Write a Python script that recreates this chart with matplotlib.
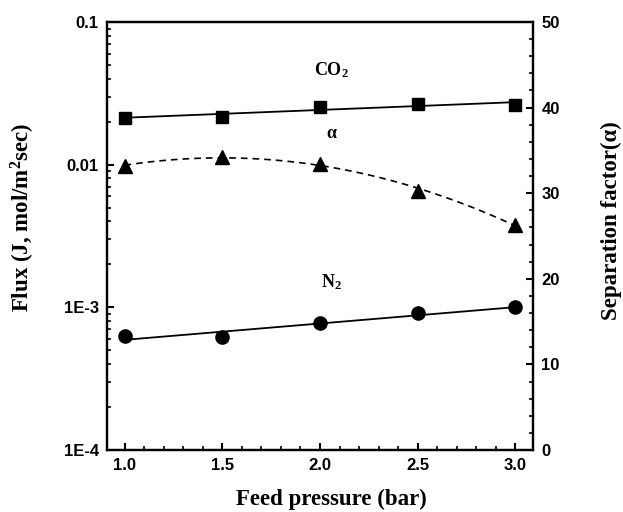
import numpy as np
import matplotlib
matplotlib.use("Agg")
import matplotlib.pyplot as plt
from matplotlib.font_manager import FontProperties
from matplotlib.ticker import FixedLocator, FixedFormatter, LogLocator, MultipleLocator, NullFormatter

plt.rcParams["mathtext.fontset"] = "custom"
plt.rcParams["mathtext.rm"] = "Liberation Serif:weight=bold"
plt.rcParams["mathtext.bf"] = "Liberation Serif:weight=bold"
plt.rcParams["mathtext.it"] = "Liberation Serif:weight=bold"

pressure = [1.0, 1.5, 2.0, 2.5, 3.0]
co2_flux = [0.0213, 0.0217, 0.0255, 0.0267, 0.0263]
n2_flux = [6.27e-4, 6.17e-4, 7.73e-4, 9.08e-4, 1.0e-3]
alpha = [33.2, 34.2, 33.4, 30.3, 26.3]

left_ticks = [1e-4, 1e-3, 1e-2, 1e-1]
left_labels = ["1E-4", "1E-3", "0.01", "0.1"]
x_ticks = [1.0, 1.5, 2.0, 2.5, 3.0]
x_labels = ["1.0", "1.5", "2.0", "2.5", "3.0"]
right_ticks = [0, 10, 20, 30, 40, 50]

tickfp = FontProperties(family="Liberation Sans", weight="bold", size=12)
labfont = dict(family="Liberation Serif", weight="bold", size=16.5)
annfont = dict(family="Liberation Serif", weight="bold", size=13)

W, H = 623, 512
fig = plt.figure(figsize=(W/100, H/100), dpi=100)
ax = fig.add_axes([107/W, 1-450/H, (533-107)/W, (450-22)/H])
ax2 = ax.twinx()

x = np.array(pressure)
xf = np.linspace(1.0, 3.0, 100)

# CO2
c = np.polyfit(x, np.log10(co2_flux), 1)
ax.plot(xf, 10**np.polyval(c, xf), color="black", lw=1.3)
ax.plot(x, co2_flux, "s", color="black", ms=8)
# N2
c = np.polyfit(x, np.log10(n2_flux), 1)
ax.plot(xf, 10**np.polyval(c, xf), color="black", lw=1.3)
ax.plot(x, n2_flux, "o", color="black", ms=9.5)
# alpha
c = np.polyfit(x, alpha, 2)
ax2.plot(xf, np.polyval(c, xf), color="black", lw=1.2, ls=(0, (4, 3)))
ax2.plot(x, alpha, "^", color="black", ms=9.5)

ax.set_yscale("log")
ax.set_ylim(1e-4, 1e-1)
ax.set_xlim(0.91, 3.09)
ax2.set_ylim(0, 50)

ax.yaxis.set_major_locator(FixedLocator(left_ticks))
ax.yaxis.set_major_formatter(FixedFormatter(left_labels))
ax.yaxis.set_minor_locator(LogLocator(base=10, subs=np.arange(2, 10)))
ax.yaxis.set_minor_formatter(NullFormatter())
ax.xaxis.set_major_locator(FixedLocator(x_ticks))
ax.xaxis.set_major_formatter(FixedFormatter(x_labels))
ax.xaxis.set_minor_locator(MultipleLocator(0.1))
ax2.yaxis.set_major_locator(FixedLocator(right_ticks))
ax2.yaxis.set_minor_locator(MultipleLocator(2))

for a in (ax, ax2):
    a.tick_params(which="major", direction="in", length=5, width=1.5)
    a.tick_params(which="minor", direction="in", length=3, width=1.2)
    for s in a.spines.values():
        s.set_linewidth(1.6)
ax.tick_params(top=False, right=False, which="both")
ax.tick_params(axis="both", which="major", pad=6)
ax2.tick_params(axis="y", which="major", pad=6)

for lab in ax.get_xticklabels() + ax.get_yticklabels() + ax2.get_yticklabels():
    lab.set_fontproperties(tickfp)

fig.text(331/W, 1-499/H, "Feed pressure (bar)", fontdict=labfont, ha="center", va="center")
fig.text(23/W, 1-217/H, "Flux (J, mol/m$^{\\mathbf{2}}$sec)", fontdict=labfont, ha="center", va="center", rotation=90)
fig.text(611/W, 1-221/H, "Separation factor(\u03b1)", fontdict=labfont, ha="center", va="center", rotation=90)

def ly(py):
    return 10**(-1 - (py-22)/143)

ax.text(2.06, ly(70), "CO$_{\\mathbf{2}}$", fontdict=annfont, ha="center", va="center")
ax.text(2.06, ly(134), "\u03b1", fontdict=annfont, ha="center", va="center")
ax.text(2.06, ly(283), "N$_{\\mathbf{2}}$", fontdict=annfont, ha="center", va="center")

fig.savefig("out.png", dpi=100)
